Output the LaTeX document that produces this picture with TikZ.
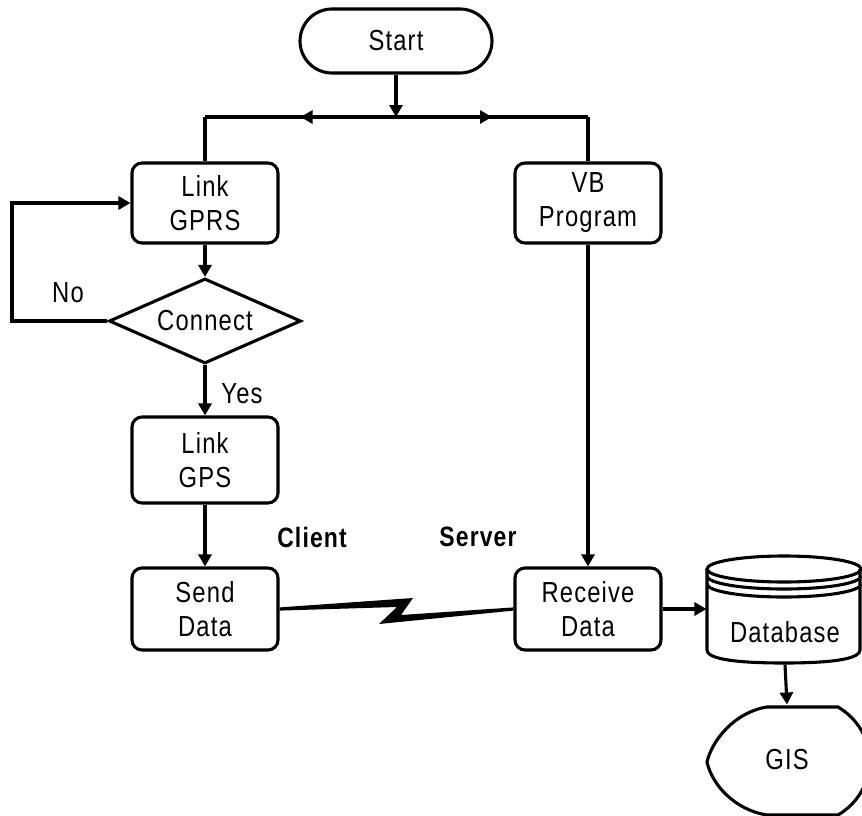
\documentclass[tikz,border=0pt]{standalone}
\usepackage{fontspec}
\setmainfont{Liberation Sans}[FakeStretch=0.82,LetterSpace=4]
\usetikzlibrary{arrows.meta,shapes.geometric,calc}
\begin{document}
\begin{tikzpicture}[x=1pt,y=-1pt,line width=3.1pt,
  every node/.style={font=\fontsize{29}{34}\selectfont,align=center,inner sep=0pt},
  proc/.style={draw,rounded corners=10pt,minimum width=146pt,minimum height=82pt},
  arr/.style={-{Triangle[length=12pt,width=13pt]}},
  lbl/.style={font=\fontsize{28}{32}\selectfont\bfseries}]
\useasboundingbox (0,0) rectangle (862,816);
\clip (0,0) rectangle (862,816);
% nodes
\node[draw,rounded corners=32pt,minimum width=192pt,minimum height=64pt] (start) at (396,41) {Start};
\coordinate (j) at (396,117);
\coordinate (jl) at (205,117);
\coordinate (jr) at (588,117);
\node[proc,minimum height=80pt] (gprs) at (205,203) {Link\\GPRS};
\node[proc,minimum height=80pt] (vb) at (588,203) {VB\\Program};
\node[draw,diamond,aspect=2.26,minimum width=192pt,minimum height=85pt] (conn) at (205,321) {Connect};
\coordinate (lp) at (12,321);
\node[proc,minimum height=86pt] (gps) at (205,460) {Link\\GPS};
\node[proc] (send) at (205,609) {Send\\Data};
\node[proc] (recv) at (588,609) {Receive\\Data};
\node (no) at (68,293) {No};
\node (yes) at (242,394) {Yes};
\node[lbl] (client) at (312,537) {Client};
\node[lbl] (server) at (478,537) {Server};
\node[minimum width=154pt,minimum height=62pt] (db) at (785,632) {Database};
\node[minimum width=150pt,minimum height=108pt] (gis) at (787,760) {GIS};
% database cylinder
\draw (784,569) ellipse [x radius=77, y radius=13];
\draw (707,576) arc[start angle=180,end angle=0,x radius=77,y radius=13];
\draw (707,584) arc[start angle=180,end angle=0,x radius=77,y radius=13];
\draw (707,569) -- (707,650) .. controls (707,658) and (730,663) .. (784,663)
      .. controls (838,663) and (860,658) .. (860,650) -- (860,569);
% GIS display shape
\draw (838,707) -- (767,707) .. controls (735,712) and (712,740) .. (707,762)
      .. controls (712,785) and (735,810) .. (767,815) -- (838,815)
      .. controls (880,790) and (880,732) .. (838,707) -- cycle;
% connectors
\draw[arr] (start.south) -- (j);
\draw (jl) -- (jr);
\draw[arr] (j) -- ($(j)!0.5!(jl)$);
\draw[arr] (j) -- ($(j)!0.5!(jr)$);
\draw (jl) -- (gprs.north);
\draw (jr) -- (vb.north);
\draw[arr] (gprs.south) -- (conn.north);
\draw[arr] (conn.west) -- (lp) |- (gprs.west);
\draw[arr] (conn.south) -- (gps.north);
\draw[arr] (gps.south) -- (send.north);
\draw[arr] (vb.south) -- (recv.north);
\draw[arr] (recv.east) -- (recv.east -| db.west);
\draw[arr] (db.south) -- (gis.north);
% lightning link
\fill ($(send.east)+(0,-1.6)$) -- (413,598) -- (401,615) -- ($(recv.west)+(0,-1.6)$)
      -- ($(recv.west)+(0,1.6)$) -- (379,624) -- (397,607) -- ($(send.east)+(0,1.6)$) -- cycle;
\end{tikzpicture}
\end{document}
